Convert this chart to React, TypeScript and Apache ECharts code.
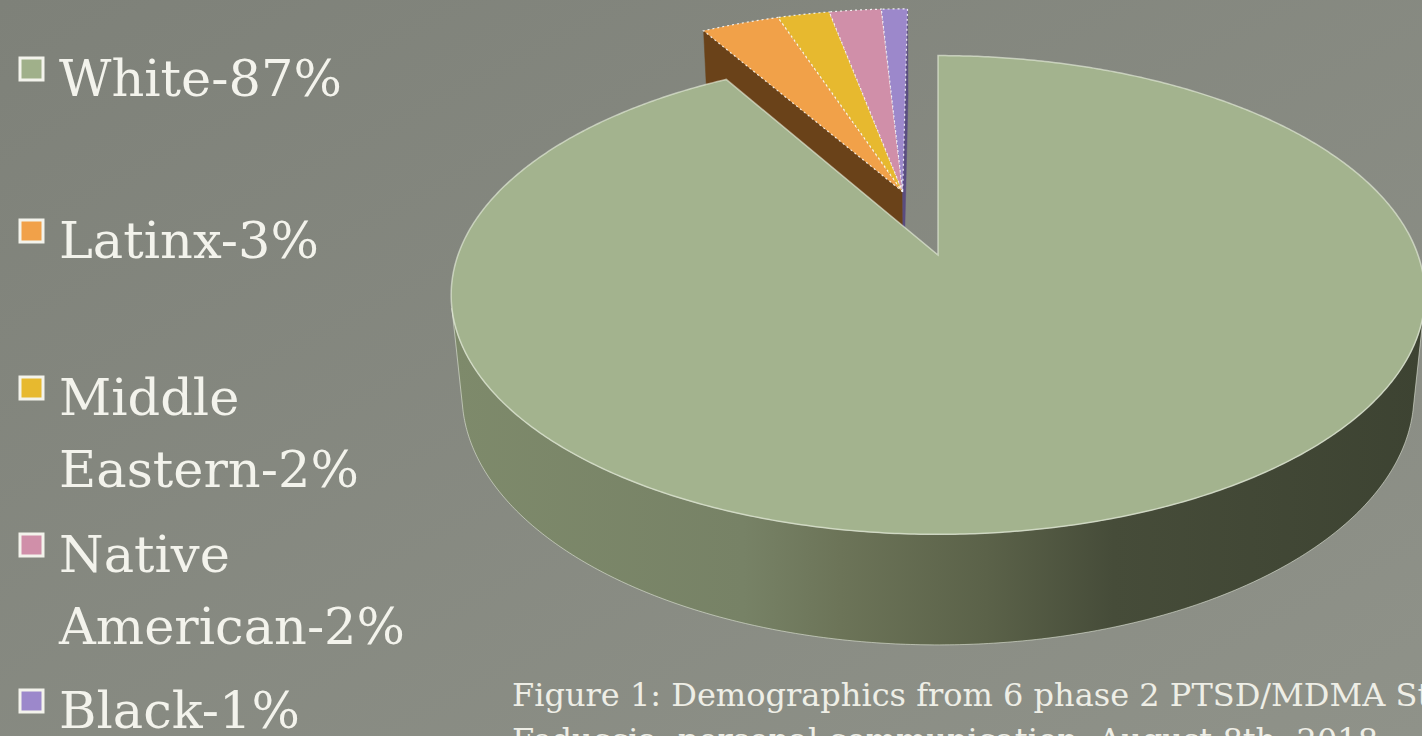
import React, { useEffect, useRef } from "react";
import * as echarts from "echarts";

// ---------------- data ----------------
const categories = ["White", "Latinx", "Middle Eastern", "Native American", "Black"];
const values = [87, 3, 2, 2, 1];
const legendLines = [
  ["White-87%"],
  ["Latinx-3%"],
  ["Middle", "Eastern-2%"],
  ["Native", "American-2%"],
  ["Black-1%"],
];
const exploded = [false, true, true, true, true];
const topColors = ["#a3b38e", "#f1a149", "#e7b92f", "#d08fa9", "#9c88cb"];
const faceColors = ["#8d928a", "#6a4219", "#7a5f12", "#7a4a5c", "#5a4d80"];
const legendColors = ["#a0b08a", "#f1a149", "#e7b92f", "#d08fa9", "#9c88cb"];
const captionLines = [
  "Figure 1: Demographics from 6 phase 2 PTSD/MDMA Studies",
  "Feduccia, personal communication, August 8th, 2018",
];

// ---------------- 3D layout ----------------
const CX = 938;
const CY = 255;
const SCALE = 480;
const FOCAL = 5.24;
const TILT = (29 * Math.PI) / 180;
const THICK = 0.24;
const EXPLODE = 0.295;
const COS_T = Math.cos(TILT);
const SIN_T = Math.sin(TILT);
const CAM = [0, FOCAL * SIN_T, -FOCAL * COS_T];

function project(X: number, Y: number, Z: number): number[] {
  const yp = Y * COS_T + Z * SIN_T;
  const zp = Z * COS_T - Y * SIN_T;
  const k = FOCAL / (FOCAL + zp);
  return [CX + SCALE * X * k, CY - SCALE * yp * k];
}

const total = values.reduce((a, b) => a + b, 0);
const starts: number[] = [];
const ends: number[] = [];
{
  let acc = 0;
  values.forEach((v) => {
    starts.push((acc / total) * Math.PI * 2);
    acc += v;
    ends.push((acc / total) * Math.PI * 2);
  });
}
// explode offset along the bisector of the exploded group
const expIdx = values.map((_, i) => i).filter((i) => exploded[i]);
const expMid =
  expIdx.length > 0
    ? (Math.min(...expIdx.map((i) => starts[i])) + Math.max(...expIdx.map((i) => ends[i]))) / 2
    : 0;
const expOffset = [EXPLODE * Math.sin(expMid), EXPLODE * Math.cos(expMid)];

const sideGradient = {
  type: "linear",
  x: 0,
  y: 0,
  x2: 1,
  y2: 0,
  colorStops: [
    { offset: 0, color: "#7e8a6b" },
    { offset: 0.3, color: "#778266" },
    { offset: 0.4, color: "#6c7458" },
    { offset: 0.55, color: "#5b6249" },
    { offset: 0.68, color: "#464c39" },
    { offset: 1, color: "#3d4332" },
  ],
};

function renderSlice(params: any, api: any) {
  const i = params.dataIndex;
  const a0 = starts[i];
  const a1 = ends[i];
  const ox = exploded[i] ? expOffset[0] : 0;
  const oz = exploded[i] ? expOffset[1] : 0;
  const base = exploded[i] ? 0 : 10;
  const P = (r: number, th: number, y: number) =>
    project(ox + r * Math.sin(th), y, oz + r * Math.cos(th));
  const n = Math.max(6, Math.ceil((a1 - a0) / (Math.PI / 360)));
  const children: any[] = [];

  // outer side (only the part facing the camera)
  const runs: number[][] = [];
  let cur: number[] | null = null;
  for (let k = 0; k <= n; k++) {
    const th = a0 + ((a1 - a0) * k) / n;
    const px = ox + Math.sin(th);
    const pz = oz + Math.cos(th);
    const facing = Math.sin(th) * (CAM[0] - px) + Math.cos(th) * (CAM[2] - pz) > 0;
    if (facing) {
      if (!cur) {
        cur = [];
        runs.push(cur);
      }
      cur.push(th);
    } else cur = null;
  }
  runs.forEach((run) => {
    if (run.length < 2) return;
    const topPts = run.map((th) => P(1, th, 0));
    const botPts = run.map((th) => P(1, th, -THICK)).reverse();
    children.push({
      type: "polygon",
      z2: base + 1,
      shape: { points: topPts.concat(botPts) },
      style: {
        fill: exploded[i] ? faceColors[i] : sideGradient,
        stroke: "rgba(235,240,225,0.55)",
        lineWidth: 1,
      },
    });
  });

  // radial faces at the group boundaries
  const prev = (i - 1 + values.length) % values.length;
  const next = (i + 1) % values.length;
  const faceAt = (th: number, nx: number, nz: number) => {
    const dot = nx * (CAM[0] - ox) + nz * (CAM[2] - oz);
    if (dot <= 1e-6) return;
    children.push({
      type: "polygon",
      z2: base + 2,
      shape: {
        points: [P(0, th, 0), P(1, th, 0), P(1, th, -THICK), P(0, th, -THICK)],
      },
      style: { fill: faceColors[i], stroke: faceColors[i], lineWidth: 0.5 },
    });
  };
  if (exploded[prev] !== exploded[i]) faceAt(a0, -Math.cos(a0), Math.sin(a0));
  if (exploded[next] !== exploded[i]) faceAt(a1, Math.cos(a1), -Math.sin(a1));

  // top face
  const topPts: number[][] = [P(0, a0, 0)];
  for (let k = 0; k <= n; k++) topPts.push(P(1, a0 + ((a1 - a0) * k) / n, 0));
  children.push({
    type: "polygon",
    z2: base + 3,
    shape: { points: topPts },
    style: {
      fill: topColors[i],
      stroke: exploded[i] ? "rgba(255,255,255,0.85)" : "rgba(235,242,225,0.6)",
      lineWidth: exploded[i] ? 1.2 : 1.5,
      lineDash: exploded[i] ? [2, 3] : undefined,
    },
  });
  return { type: "group", children };
}

// ---------------- legend / caption layout ----------------
const LEGEND_TOPS = [58, 220, 377, 534, 690];
const LEGEND_LINE = 72;

function buildGraphics() {
  const g: any[] = [];
  legendLines.forEach((lines, i) => {
    g.push({
      type: "rect",
      shape: { x: 20, y: LEGEND_TOPS[i], width: 23, height: 22 },
      style: { fill: legendColors[i], stroke: "#f3f3ec", lineWidth: 3 },
    });
    lines.forEach((t, j) => {
      g.push({
        type: "text",
        x: 59,
        y: LEGEND_TOPS[i] + 20 + j * LEGEND_LINE,
        style: {
          text: t,
          fill: "#f3f3ec",
          font: "51px 'DejaVu Serif'",
          verticalAlign: "middle",
          align: "left",
        },
      });
    });
  });
  captionLines.forEach((t, j) => {
    g.push({
      type: "text",
      x: 512,
      y: 695 + j * 45,
      style: {
        text: t,
        fill: "#eeeee6",
        font: "32px 'DejaVu Serif'",
        verticalAlign: "middle",
        align: "left",
      },
    });
  });
  return g;
}

export default function App() {
  const ref = useRef<HTMLDivElement>(null);
  useEffect(() => {
    const chart = echarts.init(ref.current!, undefined, { renderer: "svg" });
    chart.setOption({
      animation: false,
      backgroundColor: {
        type: "linear",
        x: 0,
        y: 0,
        x2: 1,
        y2: 1,
        colorStops: [
          { offset: 0, color: "#7e8179" },
          { offset: 1, color: "#8f9289" },
        ],
      },
      color: topColors,
      series: [
        {
          type: "custom",
          name: "Demographics",
          coordinateSystem: "none",
          silent: true,
          data: values.map((v, i) => ({ name: categories[i], value: v })),
          renderItem: renderSlice,
        },
      ],
      graphic: buildGraphics(),
    });
    return () => chart.dispose();
  }, []);
  return (
    <div
      ref={ref}
      style={{ position: "fixed", left: 0, top: 0, width: 1422, height: 736 }}
    />
  );
}
